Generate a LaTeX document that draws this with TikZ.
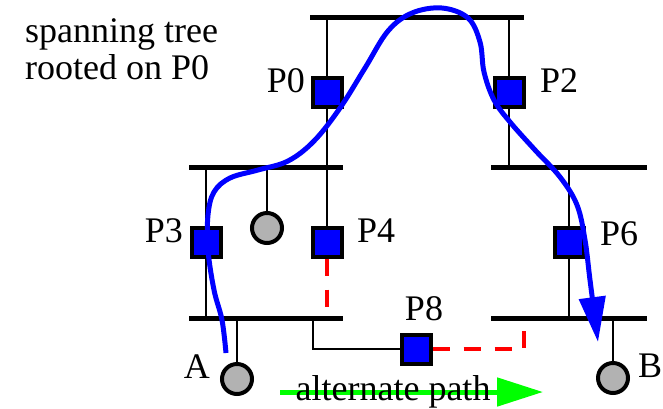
\documentclass[tikz,border=0pt]{standalone}
\usepackage{fontspec}
\setmainfont{Liberation Serif}
\usetikzlibrary{arrows.meta}
\definecolor{hostgray}{RGB}{178,178,178}
\definecolor{pblue}{RGB}{0,0,255}
\definecolor{pred}{RGB}{255,0,0}
\definecolor{pgreen}{RGB}{0,255,0}
\begin{document}
\begin{tikzpicture}[x=1pt,y=-1pt,
  bus/.style={line width=5pt},
  wire/.style={line width=2pt},
  port/.style={draw, line width=4pt, fill=pblue, minimum size=29pt, inner sep=0pt},
  host/.style={circle, draw, line width=4pt, fill=hostgray, minimum size=30pt, inner sep=0pt},
  lbl/.style={font=\fontsize{36}{36}\selectfont, inner sep=0pt},
  alt/.style={pred, line width=4pt, dash pattern=on 17pt off 14pt},
  tree/.style={pblue, line width=5pt},
  green/.style={pgreen, line width=5pt}
  ]
\useasboundingbox (0,0) rectangle (663,408);

% bus end points
\coordinate (t1) at (310,17);  \coordinate (t2) at (524,17);
\coordinate (ml1) at (189,167); \coordinate (ml2) at (343,167);
\coordinate (mr1) at (491,167); \coordinate (mr2) at (647,167);
\coordinate (bl1) at (189,318); \coordinate (bl2) at (343,318);
\coordinate (br1) at (491,318); \coordinate (br2) at (647,318);

% buses
\draw[bus] (t1) -- (t2);
\draw[bus] (ml1) -- (ml2);
\draw[bus] (mr1) -- (mr2);
\draw[bus] (bl1) -- (bl2);
\draw[bus] (br1) -- (br2);

% bridges
\node[port] (P0) at (327,92) {};
\node[port] (P2) at (509,92) {};
\node[port] (P3) at (206,242) {};
\node[port] (P4) at (327,242) {};
\node[port] (P6) at (569,242) {};
\node[port] (P8) at (416,349) {};

% hosts
\node[host] (H) at (267,228) {};
\node[host] (A) at (237,379) {};
\node[host] (B) at (613,378) {};

% wires
\draw[wire] (P0 |- t1) -- (P0.north);
\draw[wire] (P0.south) -- (P0 |- ml1);
\draw[wire] (P2 |- t1) -- (P2.north);
\draw[wire] (P2.south) -- (P2 |- mr1);
\draw[wire] (P3 |- ml1) -- (P3.north);
\draw[wire] (P3.south) -- (P3 |- bl1);
\draw[wire] (P4 |- ml1) -- (P4.north);
\draw[wire] (P6 |- mr1) -- (P6.north);
\draw[wire] (P6.south) -- (P6 |- br1);
\draw[wire] (H |- ml1) -- (H.north);
\draw[wire] (A |- bl1) -- (A.north);
\draw[wire] (B |- br1) -- (B.north);
\coordinate (p8tap) at (313,318);
\draw[wire] (p8tap) |- (P8.west);

% alternate (blocked) links
\draw[alt] (P4.south) -- (P4 |- bl1);
\coordinate (p8r) at (524,318);
\draw[alt] (P8.east) -| (p8r);

% labels
\node[lbl, anchor=base east] (lP0) at (305,92) {P0};
\node[lbl, anchor=base west] (lP2) at (540,92) {P2};
\node[lbl, anchor=base east] (lP3) at (183,242) {P3};
\node[lbl, anchor=base west] (lP4) at (357,242) {P4};
\node[lbl, anchor=base west] (lP6) at (600,245) {P6};
\node[lbl, anchor=base] (lP8) at (424,320) {P8};
\node[lbl, anchor=base east] (lA) at (210,378) {A};
\node[lbl, anchor=base west] (lB) at (638,377) {B};
\node[lbl, anchor=base west] (title1) at (25,42) {spanning tree};
\node[lbl, anchor=base west] (title2) at (25,79) {rooted on P0};

% spanning tree path
\draw[tree, -{Triangle[length=45pt,width=26pt]}] plot[smooth, tension=0.6] coordinates {
  (226,353) (222,320) (214,290) (208,250) (208,215) (214,192) (230,178)
  (258,170) (288,161) (314,141) (340,108) (365,68) (388,31) (412,13)
  (442,8) (468,18) (480,42) (484,72) (494,100) (510,122) (535,150)
  (560,177) (577,205) (585,240) (590,280) (598,342)};

% alternate path arrow
\coordinate (g1) at (280,392);
\coordinate (g2) at (543,392);
\draw[green, -{Triangle[length=46pt,width=28pt]}] (g1) -- (g2);
\node[lbl, anchor=base] (altlbl) at (393,400) {alternate path};
\end{tikzpicture}
\end{document}
